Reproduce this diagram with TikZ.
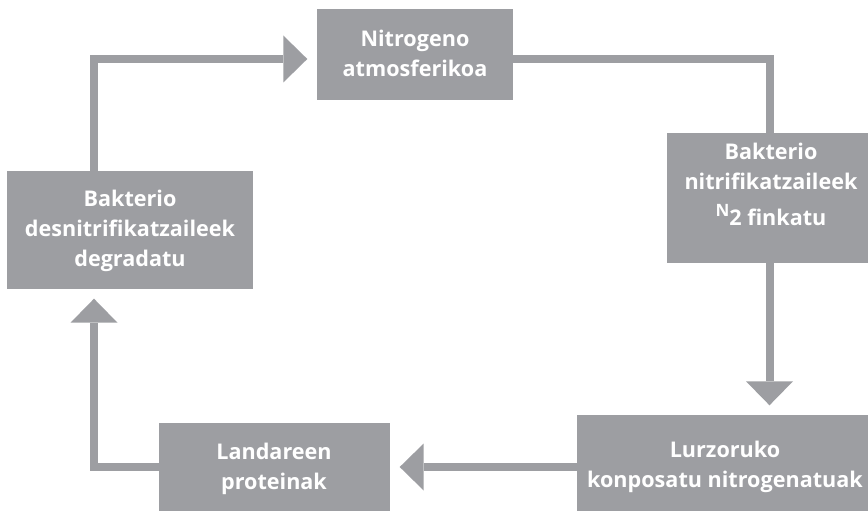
\documentclass[tikz,border=0pt]{standalone}
\usepackage{fontspec}
\setmainfont{Open Sans}
\usetikzlibrary{arrows.meta}
\definecolor{cyclegray}{RGB}{157,158,162}
\begin{document}
\begin{tikzpicture}[x=1pt,y=-1pt,
  box/.style={fill=cyclegray, draw=none, inner sep=0pt},
  caption/.style={text=white, font=\bfseries\fontsize{21.6}{30}\selectfont, align=center, inner sep=0pt},
  link/.style={draw=cyclegray, line width=8pt},
  flow/.style={link, -{Triangle[width=47pt,length=24pt,line width=0pt]}, shorten >=9.5pt}]
\useasboundingbox (0,0) rectangle (868,511);
\clip (0,0) rectangle (868,511);

% boxes of the cycle
\node[box, minimum width=196pt, minimum height=91pt]  (N) at (415,54.5) {};
\node[box, minimum width=205pt, minimum height=130pt] (R) at (769.5,198) {};
\node[box, minimum width=296pt, minimum height=99pt]  (B) at (725,464.5) {};
\node[box, minimum width=231pt, minimum height=88pt]  (L) at (274.5,467) {};
\node[box, minimum width=246pt, minimum height=118pt] (D) at (130,230) {};

% box texts
\node[caption] (Nt) at (415,53) {Nitrogeno\\atmosferikoa};
\node[caption] (Rt) at (771,184.5) {Bakterio\\nitrifikatzaileek\\[6pt]\raisebox{9pt}{\fontsize{17}{17}\selectfont N}2 finkatu};
\node[caption] (Bt) at (725,467) {Lurzoruko\\konposatu nitrogenatuak};
\node[caption] (Lt) at (274,469) {Landareen\\proteinak};
\node[caption] (Dt) at (130,231) {Bakterio\\desnitrifikatzaileek\\degradatu};

% connectors
\draw[flow] ([xshift=-36pt]D.north) |- ([yshift=-4.5pt]N.west);
\draw[link] ([yshift=-4.5pt]N.east) -| (R.north);
\draw[flow] (R.south) -- (R.south |- B.north);
\draw[flow] (B.west |- L.east) -- (L.east);
\draw[flow] (L.west) -| ([xshift=-36pt]D.south);
\end{tikzpicture}
\end{document}
